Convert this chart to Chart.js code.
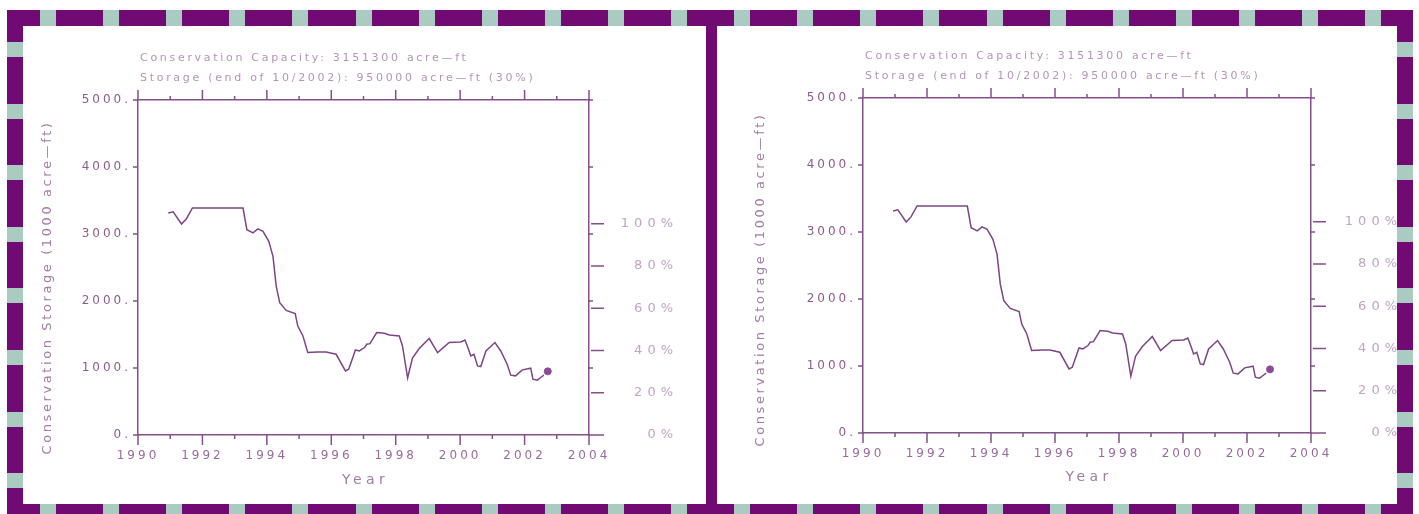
<!DOCTYPE html>
<html>
<head>
<meta charset="utf-8">
<title>Conservation Storage</title>
<script src="https://cdn.jsdelivr.net/npm/chart.js@4.4.1/dist/chart.umd.min.js"></script>
<style>
  html, body { margin: 0; padding: 0; background: #fff; }
  body { width: 1419px; height: 514px; position: relative; overflow: hidden; }
  canvas { position: absolute; }
  #frame { left: 0; top: 0; }
  #chart1 { left: 23px; top: 26px; }
  #chart2 { left: 717px; top: 26px; }
</style>
</head>
<body>
<canvas id="frame" width="1419" height="514"></canvas>
<canvas id="chart1" width="683" height="478"></canvas>
<canvas id="chart2" width="680" height="478"></canvas>
<script>
// data (decimal year, 1000 acre-ft)
const years = [
  1990.94, 1991.09, 1991.35, 1991.50, 1991.69, 1993.26, 1993.38, 1993.57, 1993.72, 1993.88,
  1994.06, 1994.19, 1994.29, 1994.40, 1994.60, 1994.88, 1994.96, 1995.12, 1995.27, 1995.58,
  1995.84, 1996.15, 1996.44, 1996.54, 1996.75, 1996.87, 1997.03, 1997.10, 1997.20, 1997.41,
  1997.65, 1997.80, 1998.11, 1998.21, 1998.37, 1998.52, 1998.73, 1999.04, 1999.30, 1999.66,
  2000.02, 2000.15, 2000.26, 2000.33, 2000.43, 2000.54, 2000.64, 2000.80, 2001.08, 2001.26,
  2001.46, 2001.57, 2001.72, 2001.93, 2002.19, 2002.26, 2002.39, 2002.50, 2002.60
];
const storage = [
  3314, 3330, 3150, 3225, 3388, 3388, 3065, 3016, 3076, 3040,
  2891, 2667, 2221, 1974, 1860, 1811, 1626, 1478, 1231, 1240,
  1240, 1205, 957, 982, 1269, 1254, 1305, 1354, 1364, 1528,
  1518, 1493, 1478, 1329, 850, 1150, 1290, 1440, 1231, 1380,
  1389, 1418, 1280, 1180, 1205, 1031, 1022, 1254, 1380, 1254,
  1057, 893, 883, 972, 997, 833, 818, 858, 893
];
const lastYear = 2002.72;
const lastStorage = 950;
const capacity = 3151.3;

const majorYears = [1990, 1992, 1994, 1996, 1998, 2000, 2002, 2004];
const minorYears = [1991, 1993, 1995, 1997, 1999, 2001, 2003];
const storageTicks = [0, 1000, 2000, 3000, 4000, 5000];
const percentTicks = [0, 20, 40, 60, 80, 100];

const titleLines = [
  'Conservation Capacity: 3151300 acre\u2014ft',
  'Storage (end of 10/2002): 950000 acre\u2014ft (30%)'
];
const yTitle = 'Conservation Storage (1000 acre\u2014ft)';
const xTitle = 'Year';

const axisColor = '#84508a';
const lineColor = '#7e4486';
const sans = '"DejaVu Sans", sans-serif';

// dashed purple / green border
const fctx = document.getElementById('frame').getContext('2d');
fctx.fillStyle = '#720a74';
fctx.fillRect(7, 10, 1406, 16);
fctx.fillRect(7, 504, 1406, 10);
fctx.fillRect(7, 10, 16, 504);
fctx.fillRect(1397, 10, 16, 504);
fctx.fillRect(706, 10, 11, 504);
fctx.fillStyle = '#a9cbc2';
for (let x = 40; x < 1397; x += 63.1) {
  fctx.fillRect(Math.round(x), 10, 16, 16);
  fctx.fillRect(Math.round(x), 504, 16, 10);
}
for (let y = 42; y < 504; y += 61.6) {
  fctx.fillRect(7, Math.round(y), 16, 15);
  fctx.fillRect(1397, Math.round(y), 16, 15);
}

function setSpacing(ctx, px) {
  ctx.letterSpacing = px + 'px';
}

const tickSpacing = 3;

const framePlugin = {
  id: 'frame',
  beforeUpdate(chart) { setSpacing(chart.ctx, tickSpacing); },
  beforeDraw(chart) { setSpacing(chart.ctx, tickSpacing); },
  afterDraw(chart, args, opts) {
    const ctx = chart.ctx;
    const { left, right, top, bottom } = chart.chartArea;
    const xs = chart.scales.x, ys = chart.scales.y, ps = chart.scales.y2;
    ctx.save();

    // tick marks
    ctx.strokeStyle = axisColor;
    ctx.lineWidth = 1.5;
    ctx.beginPath();
    majorYears.concat(minorYears).forEach(yr => {
      const px = xs.getPixelForValue(yr);
      const len = majorYears.includes(yr) ? 10 : 4;
      ctx.moveTo(px, top); ctx.lineTo(px, top - len);
      ctx.moveTo(px, bottom); ctx.lineTo(px, bottom + len);
    });
    ys.ticks.forEach(t => {
      const py = ys.getPixelForValue(t.value);
      ctx.moveTo(left - 5, py); ctx.lineTo(left, py);
      ctx.moveTo(right, py); ctx.lineTo(right + 4, py);
    });
    ps.ticks.forEach(t => {
      const py = ps.getPixelForValue(t.value);
      ctx.moveTo(right + 2, py); ctx.lineTo(right + 15, py);
    });
    ctx.stroke();

    // percent labels
    setSpacing(ctx, 5);
    ctx.font = '13px ' + sans;
    ctx.fillStyle = '#c2a4c3';
    ctx.textAlign = 'right';
    ctx.textBaseline = 'middle';
    ps.ticks.forEach(t => {
      ctx.fillText(t.value + '%', right + opts.pctRight + 5, ps.getPixelForValue(t.value));
    });

    // heading lines
    setSpacing(ctx, 2.7);
    ctx.font = '11px ' + sans;
    ctx.fillStyle = '#b394b5';
    ctx.textAlign = 'left';
    ctx.fillText(titleLines[0], left + 2, top - 42);
    ctx.fillText(titleLines[1], left + 2, top - 22);

    // x title
    setSpacing(ctx, 4.4);
    ctx.font = '14px ' + sans;
    ctx.fillStyle = '#a07ca2';
    ctx.textAlign = 'center';
    ctx.fillText(xTitle, (left + right) / 2 + 2, bottom + opts.xTitleDy);

    // y title
    setSpacing(ctx, 2.6);
    ctx.font = '13px ' + sans;
    ctx.fillStyle = '#a27ca4';
    ctx.translate(left + opts.yTitleDx, (top + bottom) / 2 + opts.yTitleDy);
    ctx.rotate(-Math.PI / 2);
    ctx.fillText(yTitle, 0, 0);

    ctx.restore();
  }
};

function makeChart(id, box) {
  const border = { display: true, color: axisColor, width: 1.5 };
  return new Chart(document.getElementById(id), {
    type: 'line',
    data: {
      datasets: [
        {
          data: years.map((yr, i) => ({ x: yr, y: storage[i] })),
          borderColor: lineColor,
          borderWidth: 1.5,
          pointRadius: 0,
          tension: 0
        },
        {
          data: [{ x: lastYear, y: lastStorage }],
          showLine: false,
          pointRadius: 3.5,
          pointBackgroundColor: '#8e4c98',
          pointBorderColor: '#8e4c98'
        }
      ]
    },
    options: {
      responsive: false,
      animation: false,
      events: [],
      layout: { padding: 0 },
      plugins: {
        legend: { display: false },
        tooltip: { enabled: false },
        frame: box.text
      },
      scales: {
        x: {
          type: 'linear', position: 'bottom', min: 1990, max: 2004,
          afterBuildTicks: s => { s.ticks = majorYears.map(v => ({ value: v })); },
          afterFit: s => { s.height = box.bottom; },
          grid: { display: false, drawTicks: false },
          border: border,
          ticks: {
            autoSkip: false, maxRotation: 0, padding: 14,
            color: '#9a6a9c',
            font: { family: sans, size: 12 },
            callback: v => String(v)
          }
        },
        x2: {
          type: 'linear', position: 'top', min: 1990, max: 2004,
          afterFit: s => { s.height = box.top; },
          grid: { display: false, drawTicks: false },
          border: border,
          ticks: { display: false }
        },
        y: {
          type: 'linear', position: 'left', min: 0, max: 5000,
          afterBuildTicks: s => { s.ticks = storageTicks.map(v => ({ value: v })); },
          afterFit: s => { s.width = box.left; },
          grid: { display: false, drawTicks: false },
          border: border,
          ticks: {
            padding: 7,
            color: '#8c5a8e',
            font: { family: sans, size: 12 },
            callback: v => v + '.'
          }
        },
        y2: {
          type: 'linear', position: 'right', min: 0, max: 5000 / capacity * 100,
          afterBuildTicks: s => { s.ticks = percentTicks.map(v => ({ value: v })); },
          afterFit: s => { s.width = box.right; },
          grid: { display: false, drawTicks: false },
          border: border,
          ticks: { display: false }
        }
      }
    },
    plugins: [framePlugin]
  });
}

makeChart('chart1', {
  left: 115, right: 117, top: 74, bottom: 69,
  text: { yTitleDx: -90, yTitleDy: 20, xTitleDy: 45, pctRight: 84 }
});
makeChart('chart2', {
  left: 146, right: 86, top: 72, bottom: 71,
  text: { yTitleDx: -102, yTitleDy: 14, xTitleDy: 44, pctRight: 86 }
});
</script>
</body>
</html>
